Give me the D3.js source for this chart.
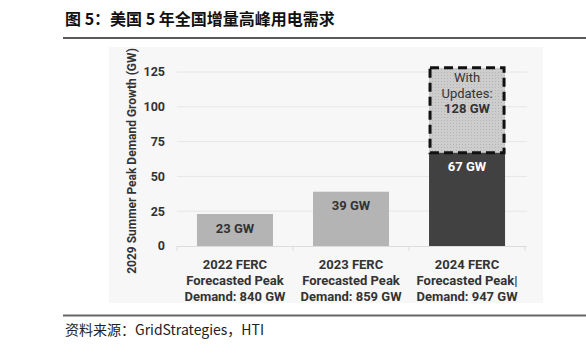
<!DOCTYPE html>
<html lang="zh">
<head>
<meta charset="UTF-8">
<title>美国 5 年全国增量高峰用电需求</title>
<script src="https://d3js.org/d3.v7.min.js"></script>
<style>
  body { margin: 0; background: #fff; }
  svg text { font-family: Roboto, "Noto Sans", sans-serif; }
</style>
</head>
<body>
<script>
  // data
  var categories = [
    ["2022 FERC", "Forecasted Peak", "Demand: 840 GW"],
    ["2023 FERC", "Forecasted Peak", "Demand: 859 GW"],
    ["2024 FERC", "Forecasted Peak|", "Demand: 947 GW"]
  ];
  var baseValues = [23, 39, 67];
  var updatedValue = 128;
  var updatedLabel = ["With", "Updates:", "128 GW"];
  var yTicks = [0, 25, 50, 75, 100, 125];

  var width = 586, height = 353;

  var svg = d3.select("body").append("svg")
    .attr("width", width)
    .attr("height", height);

  // dotted texture for the "with updates" box
  var defs = svg.append("defs");
  var pat = defs.append("pattern")
    .attr("id", "dots")
    .attr("width", 3).attr("height", 3)
    .attr("patternUnits", "userSpaceOnUse");
  pat.append("rect").attr("width", 3).attr("height", 3).attr("fill", "#cdcdcd");
  pat.append("rect").attr("width", 1).attr("height", 1).attr("fill", "#b4b4b4");

  // title + rules
  svg.append("text")
    .attr("x", 65).attr("y", 25)
    .style("font-family", "'Noto Sans CJK SC', sans-serif")
    .style("font-size", "16px").style("font-weight", "bold")
    .attr("fill", "#111")
    .text("图 5：美国 5 年全国增量高峰用电需求");

  svg.append("line")
    .attr("x1", 63).attr("x2", 586).attr("y1", 38).attr("y2", 38)
    .attr("stroke", "#222").attr("stroke-width", 1.3);

  svg.append("line")
    .attr("x1", 63).attr("x2", 586).attr("y1", 315.5).attr("y2", 315.5)
    .attr("stroke", "#666").attr("stroke-width", 2);

  svg.append("text")
    .attr("x", 65).attr("y", 335)
    .style("font-family", "'Noto Sans CJK SC', sans-serif")
    .style("font-size", "14px")
    .attr("fill", "#222")
    .text("资料来源：GridStrategies，HTI");

  // chart image background
  svg.append("rect")
    .attr("x", 109).attr("y", 47)
    .attr("width", 434).attr("height", 256)
    .attr("fill", "#f7f7f7");

  var x = d3.scaleBand()
    .domain(d3.range(categories.length))
    .range([177, 525])
    .paddingInner(0.345)
    .paddingOuter(0.172);

  var y = d3.scaleLinear()
    .domain([0, 125])
    .range([246, 72]);

  var g = svg.append("g");

  // gridlines
  g.selectAll(".grid")
    .data(yTicks.slice(1))
    .enter().append("line")
    .attr("x1", 177).attr("x2", 527)
    .attr("y1", function(d) { return y(d); })
    .attr("y2", function(d) { return y(d); })
    .attr("stroke", "#e6e6e6").attr("stroke-width", 1);

  // y tick labels
  g.selectAll(".ytick")
    .data(yTicks)
    .enter().append("text")
    .attr("x", 165)
    .attr("y", function(d) { return y(d); })
    .attr("dy", "0.35em")
    .attr("text-anchor", "end")
    .style("font-size", "12.5px").style("font-weight", "bold")
    .attr("fill", "#333")
    .text(function(d) { return d; });

  // y axis title
  svg.append("text")
    .attr("transform", "translate(136,161) rotate(-90)")
    .attr("text-anchor", "middle")
    .style("font-size", "12px").style("font-weight", "bold")
    .attr("fill", "#333")
    .text("2029 Summer Peak Demand Growth (GW)");

  // baseline with band ticks
  g.append("line")
    .attr("x1", 177).attr("x2", 527)
    .attr("y1", y(0) + 0.5).attr("y2", y(0) + 0.5)
    .attr("stroke", "#dcdcdc");
  var edges = [177, 293, 409, 525];
  g.selectAll(".edge")
    .data(edges)
    .enter().append("line")
    .attr("x1", function(d) { return d; }).attr("x2", function(d) { return d; })
    .attr("y1", y(0)).attr("y2", y(0) + 5)
    .attr("stroke", "#dcdcdc");

  // updated box (drawn first, dashed outline on top later)
  var last = baseValues.length - 1;
  g.append("rect")
    .attr("x", x(last))
    .attr("y", y(updatedValue))
    .attr("width", x.bandwidth())
    .attr("height", y(baseValues[last]) - y(updatedValue))
    .attr("fill", "url(#dots)");

  // bars
  g.selectAll(".bar")
    .data(baseValues)
    .enter().append("rect")
    .attr("x", function(d, i) { return x(i); })
    .attr("y", function(d) { return y(d); })
    .attr("width", x.bandwidth())
    .attr("height", function(d) { return y(0) - y(d); })
    .attr("fill", function(d, i) { return i === last ? "#414141" : "#b4b4b4"; });

  g.append("rect")
    .attr("x", x(last) + 1)
    .attr("y", y(updatedValue))
    .attr("width", x.bandwidth() - 2)
    .attr("height", y(baseValues[last]) - y(updatedValue))
    .attr("fill", "none")
    .attr("stroke", "#111")
    .attr("stroke-width", 3)
    .attr("stroke-dasharray", "9,5");

  // value labels
  g.selectAll(".val")
    .data(baseValues)
    .enter().append("text")
    .attr("x", function(d, i) { return x(i) + x.bandwidth() / 2; })
    .attr("y", function(d) { return y(d) + 14; })
    .attr("dy", "0.35em")
    .attr("text-anchor", "middle")
    .style("font-size", "13px").style("font-weight", "bold")
    .attr("fill", function(d, i) { return i === last ? "#fff" : "#333"; })
    .text(function(d) { return d + " GW"; });

  g.selectAll(".upd")
    .data(updatedLabel)
    .enter().append("text")
    .attr("x", x(last) + x.bandwidth() / 2)
    .attr("y", function(d, i) { return y(updatedValue) + 10 + i * 15.5; })
    .attr("dy", "0.35em")
    .attr("text-anchor", "middle")
    .style("font-size", "13px")
    .style("font-weight", function(d, i) { return i === 2 ? "bold" : "normal"; })
    .attr("fill", "#333")
    .text(function(d) { return d; });

  // category labels
  categories.forEach(function(lines, i) {
    g.selectAll(".cat" + i)
      .data(lines)
      .enter().append("text")
      .attr("x", x(i) + x.bandwidth() / 2)
      .attr("y", function(d, j) { return 264 + j * 16; })
      .attr("dy", "0.35em")
      .attr("text-anchor", "middle")
      .style("font-size", "13px").style("font-weight", "bold")
      .attr("fill", "#333")
      .text(function(d) { return d; });
  });
</script>
</body>
</html>
